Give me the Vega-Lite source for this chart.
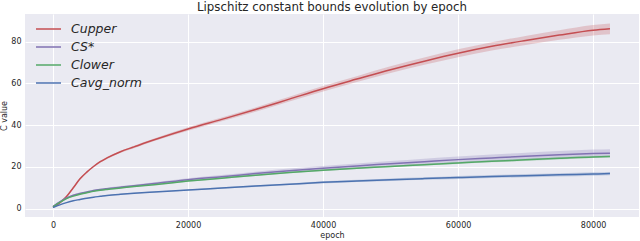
{
  "$schema": "https://vega.github.io/schema/vega-lite/v6.json",
  "autosize": {"type": "none"},
  "padding": {"left": 25, "top": 14, "right": 1, "bottom": 24},
  "width": 614,
  "height": 203,
  "background": "white",
  "title": {"text": "Lipschitz constant bounds evolution by epoch", "font": "DejaVu Sans", "fontSize": 11.8, "fontWeight": "normal", "color": "#262626", "baseline": "alphabetic", "offset": 0, "dy": 9},
  "config": {
    "view": {"fill": "#EAEAF2", "stroke": null},
    "axis": {"domain": false, "ticks": false, "gridColor": "white", "gridWidth": 1, "gridOpacity": 1, "labelFont": "DejaVu Sans", "labelFontSize": 8, "labelColor": "#262626", "titleFont": "DejaVu Sans", "titleFontSize": 8, "titleFontWeight": "normal", "titleColor": "#262626", "labelPadding": 4}
  },
  "datasets": {
    "d": [
      {"epoch":0,"s":"C_upper","m":0.9,"lo":0.5,"hi":1.3},
      {"epoch":1000,"s":"C_upper","m":2.8,"lo":2.4,"hi":3.2},
      {"epoch":2000,"s":"C_upper","m":5.8,"lo":5.4,"hi":6.2},
      {"epoch":3000,"s":"C_upper","m":10.0,"lo":9.6,"hi":10.4},
      {"epoch":4000,"s":"C_upper","m":14.3,"lo":13.9,"hi":14.7},
      {"epoch":5000,"s":"C_upper","m":17.5,"lo":17.1,"hi":17.9},
      {"epoch":6000,"s":"C_upper","m":20.2,"lo":19.8,"hi":20.6},
      {"epoch":7000,"s":"C_upper","m":22.5,"lo":22.0,"hi":23.0},
      {"epoch":8000,"s":"C_upper","m":24.3,"lo":23.8,"hi":24.8},
      {"epoch":10000,"s":"C_upper","m":27.3,"lo":26.8,"hi":27.8},
      {"epoch":12000,"s":"C_upper","m":29.6,"lo":29.0,"hi":30.2},
      {"epoch":15000,"s":"C_upper","m":33.0,"lo":32.4,"hi":33.6},
      {"epoch":20000,"s":"C_upper","m":38.2,"lo":37.4,"hi":39.0},
      {"epoch":25000,"s":"C_upper","m":42.8,"lo":41.9,"hi":43.7},
      {"epoch":30000,"s":"C_upper","m":47.5,"lo":46.5,"hi":48.5},
      {"epoch":35000,"s":"C_upper","m":52.5,"lo":51.4,"hi":53.6},
      {"epoch":40000,"s":"C_upper","m":57.5,"lo":56.2,"hi":58.8},
      {"epoch":45000,"s":"C_upper","m":62.1,"lo":60.7,"hi":63.5},
      {"epoch":50000,"s":"C_upper","m":66.6,"lo":65.0,"hi":68.2},
      {"epoch":55000,"s":"C_upper","m":70.7,"lo":69.0,"hi":72.4},
      {"epoch":60000,"s":"C_upper","m":74.5,"lo":72.6,"hi":76.4},
      {"epoch":65000,"s":"C_upper","m":77.8,"lo":75.8,"hi":79.8},
      {"epoch":70000,"s":"C_upper","m":80.6,"lo":78.4,"hi":82.8},
      {"epoch":75000,"s":"C_upper","m":83.2,"lo":80.9,"hi":85.5},
      {"epoch":80000,"s":"C_upper","m":85.5,"lo":83.0,"hi":88.0},
      {"epoch":82500,"s":"C_upper","m":86.2,"lo":83.6,"hi":88.8},
      {"epoch":0,"s":"C_S*","m":1.0,"lo":0.7,"hi":1.3},
      {"epoch":1000,"s":"C_S*","m":3.2,"lo":2.9,"hi":3.5},
      {"epoch":2000,"s":"C_S*","m":5.1,"lo":4.8,"hi":5.4},
      {"epoch":3000,"s":"C_S*","m":6.4,"lo":6.0,"hi":6.8},
      {"epoch":4000,"s":"C_S*","m":7.3,"lo":6.9,"hi":7.7},
      {"epoch":5000,"s":"C_S*","m":8.0,"lo":7.6,"hi":8.4},
      {"epoch":6000,"s":"C_S*","m":8.7,"lo":8.3,"hi":9.1},
      {"epoch":7000,"s":"C_S*","m":9.2,"lo":8.8,"hi":9.6},
      {"epoch":8000,"s":"C_S*","m":9.6,"lo":9.2,"hi":10.0},
      {"epoch":10000,"s":"C_S*","m":10.3,"lo":9.8,"hi":10.8},
      {"epoch":12000,"s":"C_S*","m":11.0,"lo":10.5,"hi":11.5},
      {"epoch":15000,"s":"C_S*","m":12.0,"lo":11.4,"hi":12.6},
      {"epoch":20000,"s":"C_S*","m":13.9,"lo":13.2,"hi":14.6},
      {"epoch":25000,"s":"C_S*","m":15.3,"lo":14.5,"hi":16.1},
      {"epoch":30000,"s":"C_S*","m":16.8,"lo":15.9,"hi":17.7},
      {"epoch":35000,"s":"C_S*","m":18.2,"lo":17.2,"hi":19.2},
      {"epoch":40000,"s":"C_S*","m":19.4,"lo":18.3,"hi":20.5},
      {"epoch":45000,"s":"C_S*","m":20.5,"lo":19.3,"hi":21.7},
      {"epoch":50000,"s":"C_S*","m":21.5,"lo":20.2,"hi":22.8},
      {"epoch":55000,"s":"C_S*","m":22.5,"lo":21.1,"hi":23.9},
      {"epoch":60000,"s":"C_S*","m":23.5,"lo":22.0,"hi":25.0},
      {"epoch":65000,"s":"C_S*","m":24.3,"lo":22.7,"hi":25.9},
      {"epoch":70000,"s":"C_S*","m":25.1,"lo":23.4,"hi":26.8},
      {"epoch":75000,"s":"C_S*","m":25.8,"lo":24.0,"hi":27.6},
      {"epoch":80000,"s":"C_S*","m":26.4,"lo":24.5,"hi":28.3},
      {"epoch":82500,"s":"C_S*","m":26.6,"lo":24.7,"hi":28.5},
      {"epoch":0,"s":"C_lower","m":0.9,"lo":0.7,"hi":1.1},
      {"epoch":1000,"s":"C_lower","m":3.0,"lo":2.8,"hi":3.2},
      {"epoch":2000,"s":"C_lower","m":4.8,"lo":4.6,"hi":5.0},
      {"epoch":3000,"s":"C_lower","m":6.0,"lo":5.8,"hi":6.2},
      {"epoch":4000,"s":"C_lower","m":6.9,"lo":6.7,"hi":7.1},
      {"epoch":5000,"s":"C_lower","m":7.6,"lo":7.4,"hi":7.8},
      {"epoch":6000,"s":"C_lower","m":8.3,"lo":8.1,"hi":8.5},
      {"epoch":7000,"s":"C_lower","m":8.8,"lo":8.6,"hi":9.0},
      {"epoch":8000,"s":"C_lower","m":9.2,"lo":9.0,"hi":9.4},
      {"epoch":10000,"s":"C_lower","m":9.9,"lo":9.7,"hi":10.1},
      {"epoch":12000,"s":"C_lower","m":10.6,"lo":10.4,"hi":10.8},
      {"epoch":15000,"s":"C_lower","m":11.5,"lo":11.3,"hi":11.7},
      {"epoch":20000,"s":"C_lower","m":13.2,"lo":12.9,"hi":13.5},
      {"epoch":25000,"s":"C_lower","m":14.6,"lo":14.3,"hi":14.9},
      {"epoch":30000,"s":"C_lower","m":16.0,"lo":15.7,"hi":16.3},
      {"epoch":35000,"s":"C_lower","m":17.3,"lo":17.0,"hi":17.6},
      {"epoch":40000,"s":"C_lower","m":18.4,"lo":18.0,"hi":18.8},
      {"epoch":45000,"s":"C_lower","m":19.4,"lo":19.0,"hi":19.8},
      {"epoch":50000,"s":"C_lower","m":20.2,"lo":19.8,"hi":20.6},
      {"epoch":55000,"s":"C_lower","m":21.1,"lo":20.7,"hi":21.5},
      {"epoch":60000,"s":"C_lower","m":21.9,"lo":21.4,"hi":22.4},
      {"epoch":65000,"s":"C_lower","m":22.7,"lo":22.2,"hi":23.2},
      {"epoch":70000,"s":"C_lower","m":23.4,"lo":22.9,"hi":23.9},
      {"epoch":75000,"s":"C_lower","m":24.1,"lo":23.6,"hi":24.6},
      {"epoch":80000,"s":"C_lower","m":24.8,"lo":24.3,"hi":25.3},
      {"epoch":82500,"s":"C_lower","m":25.0,"lo":24.5,"hi":25.5},
      {"epoch":0,"s":"C_avg_norm","m":0.5,"lo":0.4,"hi":0.6},
      {"epoch":1000,"s":"C_avg_norm","m":1.8,"lo":1.7,"hi":1.9},
      {"epoch":2000,"s":"C_avg_norm","m":2.9,"lo":2.8,"hi":3.0},
      {"epoch":3000,"s":"C_avg_norm","m":3.8,"lo":3.7,"hi":3.9},
      {"epoch":4000,"s":"C_avg_norm","m":4.4,"lo":4.3,"hi":4.5},
      {"epoch":5000,"s":"C_avg_norm","m":5.0,"lo":4.9,"hi":5.1},
      {"epoch":6000,"s":"C_avg_norm","m":5.5,"lo":5.4,"hi":5.6},
      {"epoch":7000,"s":"C_avg_norm","m":5.9,"lo":5.8,"hi":6.0},
      {"epoch":8000,"s":"C_avg_norm","m":6.3,"lo":6.2,"hi":6.4},
      {"epoch":10000,"s":"C_avg_norm","m":6.9,"lo":6.7,"hi":7.1},
      {"epoch":12000,"s":"C_avg_norm","m":7.4,"lo":7.2,"hi":7.6},
      {"epoch":15000,"s":"C_avg_norm","m":8.0,"lo":7.8,"hi":8.2},
      {"epoch":20000,"s":"C_avg_norm","m":8.9,"lo":8.6,"hi":9.2},
      {"epoch":25000,"s":"C_avg_norm","m":9.9,"lo":9.6,"hi":10.2},
      {"epoch":30000,"s":"C_avg_norm","m":10.8,"lo":10.4,"hi":11.2},
      {"epoch":35000,"s":"C_avg_norm","m":11.7,"lo":11.3,"hi":12.1},
      {"epoch":40000,"s":"C_avg_norm","m":12.6,"lo":12.1,"hi":13.1},
      {"epoch":45000,"s":"C_avg_norm","m":13.3,"lo":12.8,"hi":13.8},
      {"epoch":50000,"s":"C_avg_norm","m":13.9,"lo":13.3,"hi":14.5},
      {"epoch":55000,"s":"C_avg_norm","m":14.4,"lo":13.8,"hi":15.0},
      {"epoch":60000,"s":"C_avg_norm","m":14.9,"lo":14.2,"hi":15.6},
      {"epoch":65000,"s":"C_avg_norm","m":15.4,"lo":14.7,"hi":16.1},
      {"epoch":70000,"s":"C_avg_norm","m":15.8,"lo":15.0,"hi":16.6},
      {"epoch":75000,"s":"C_avg_norm","m":16.2,"lo":15.4,"hi":17.0},
      {"epoch":80000,"s":"C_avg_norm","m":16.6,"lo":15.8,"hi":17.4},
      {"epoch":82500,"s":"C_avg_norm","m":16.8,"lo":16.0,"hi":17.6}
    ]
  },
  "data": {"name": "d"},
  "encoding": {
    "x": {"field": "epoch", "type": "quantitative", "title": "epoch", "scale": {"domain": [-4150, 86800], "nice": false, "zero": false}, "axis": {"values": [0, 20000, 40000, 60000, 80000], "format": "d", "titlePadding": 2}},
    "color": {"field": "s", "type": "nominal", "scale": {"domain": ["C_upper", "C_S*", "C_lower", "C_avg_norm"], "range": ["#C44E52", "#8172B2", "#55A868", "#4C72B0"]}, "legend": {"title": null, "orient": "none", "legendX": 10, "legendY": 7, "symbolType": "stroke", "symbolSize": 625, "clipHeight": 16, "symbolStrokeWidth": 1.5, "symbolOpacity": 1, "labelFont": "DejaVu Sans", "labelFontSize": 12.5, "labelFontStyle": "italic", "labelColor": "#262626", "labelExpr": "replace(datum.label, '_', '')", "rowPadding": 2, "labelOffset": 9}}
  },
  "layer": [
    {
      "mark": {"type": "area", "opacity": 0.25, "interpolate": "monotone"},
      "encoding": {
        "y": {"field": "lo", "type": "quantitative", "title": "C value", "scale": {"domain": [-4.0, 93.3], "nice": false, "zero": false}, "axis": {"values": [0, 20, 40, 60, 80], "titlePadding": 2}},
        "y2": {"field": "hi"}
      }
    },
    {
      "mark": {"type": "line", "strokeWidth": 1.5, "interpolate": "monotone"},
      "encoding": {
        "y": {"field": "m", "type": "quantitative"}
      }
    }
  ]
}
